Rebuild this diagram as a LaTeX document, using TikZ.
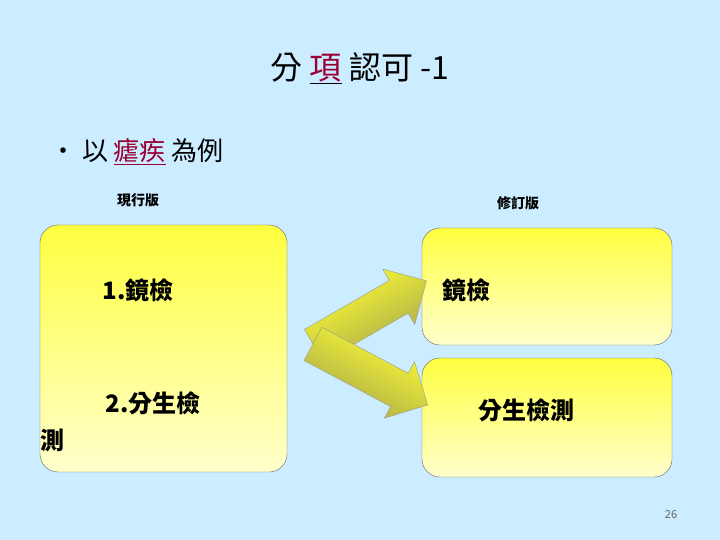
\documentclass[tikz,border=0pt]{standalone}
\usepackage{fontspec}
\setmainfont{Noto Sans CJK TC}
\usetikzlibrary{shapes.arrows}
\definecolor{bg}{HTML}{CCECFF}
\definecolor{dred}{HTML}{990033}
\begin{document}
\begin{tikzpicture}[x=1pt,y=-1pt,
  box/.style={draw=black!60,rounded corners=18pt,top color=yellow!75,bottom color=yellow!20,shading angle=0},
  arr/.style={single arrow,draw=black!40,top color=yellow!80,bottom color=yellow!50!black!70,minimum height=130pt,minimum width=64pt,single arrow head extend=12pt,inner xsep=0pt,inner ysep=17pt,single arrow tip angle=90},
  bt/.style={font=\bfseries\fontsize{24}{28}\selectfont,inner sep=0pt}]
\fill[bg] (0,0) rectangle (720,540);
\useasboundingbox (0,0) rectangle (720,540);
\node[font=\fontsize{32}{36}\selectfont,inner sep=0pt] (t) at (360,68) {分 \underline{\textcolor{dred}{項}} 認可 -1};
\node[font=\fontsize{26}{30}\selectfont,anchor=west,inner sep=0pt] (b) at (50,152) {• 以 \textcolor{dred}{\underline{瘧疾}} 為例};
\node[font=\bfseries\fontsize{14}{16}\selectfont] (l1) at (138,200) {現行版};
\node[font=\bfseries\fontsize{14}{16}\selectfont] (l2) at (518,203) {修訂版};
\node[box,minimum width=247pt,minimum height=247pt] (L) at (163.5,348.5) {};
\node[box,minimum width=250pt,minimum height=117pt] (R1) at (547,286.5) {};
\node[box,minimum width=250pt,minimum height=119pt] (R2) at (547,417.5) {};
\node[bt] (a1) at (138,290) {1.鏡檢};
\node[bt] (a2) at (153,403) {2.分生檢};
\node[bt] (a3) at (52,440) {測};
\node[bt] (b1) at (466,290) {鏡檢};
\node[bt] (b2) at (526,410) {分生檢測};
\node[arr,rotate=30,shading angle=30] (u) at (362,318) {};
\node[arr,rotate=-28,shading angle=-28] (d) at (362,370) {};
\node[font=\fontsize{11}{12}\selectfont,text=black!60] (p) at (671,515) {26};
\end{tikzpicture}
\end{document}
